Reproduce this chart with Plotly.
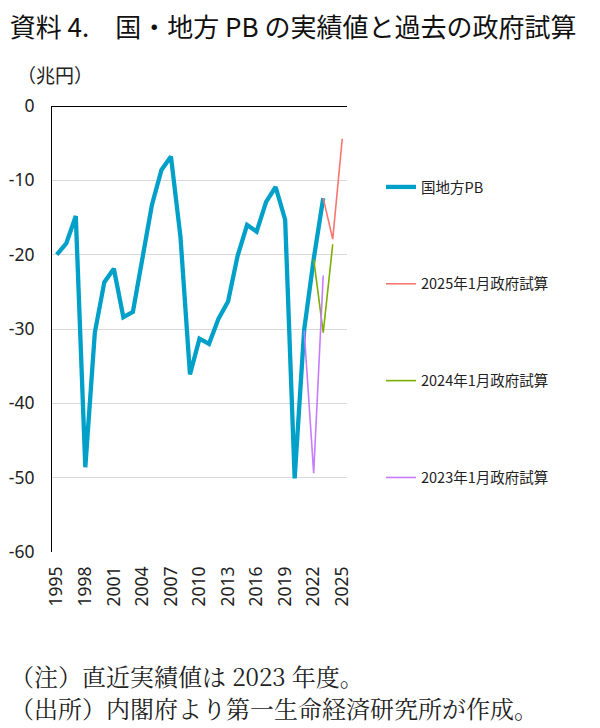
import plotly.graph_objects as go

years = list(range(1995, 2024))
pb_actual = [-20.0, -18.5, -14.8, -48.6, -30.5, -23.7, -21.9, -28.4, -27.7, -20.4,
             -13.3, -8.6, -6.8, -17.6, -36.1, -31.3, -32.0, -28.6, -26.3, -20.2,
             -16.0, -16.9, -12.9, -10.9, -15.3, -50.1, -30.1, -20.6, -12.4]

est2025_years = [2023, 2024, 2025]
est2025_vals = [-12.4, -17.9, -4.4]

est2024_years = [2022, 2023, 2024]
est2024_vals = [-20.6, -30.5, -18.6]

est2023_years = [2021, 2022, 2023]
est2023_vals = [-30.2, -49.4, -22.8]

x_ticks = list(range(1995, 2026, 3))
x_ticklabels = [str(v) for v in x_ticks]
y_ticks = [0, -10, -20, -30, -40, -50, -60]
y_ticklabels = ["0", "-10", "-20", "-30", "-40", "-50", "-60"]

series_names = ["国地方PB", "2025年1月政府試算", "2024年1月政府試算", "2023年1月政府試算"]

FONT = "Noto Sans CJK JP"
SERIF = "Noto Serif CJK JP, Noto Sans CJK JP"

# figure geometry (page has an 8px body margin)
W, H = 592, 720
L, T, PW, PH = 44, 98, 295, 446
B = H - T - PH
R = W - L - PW


def px_x(v):
    return (v - L) / PW


def px_y(v):
    return (T + PH - v) / PH


fig = go.Figure()
fig.add_trace(go.Scatter(x=years, y=pb_actual, mode="lines", name=series_names[0],
                         line=dict(color="#00A0C8", width=4.3), legendgroup="a"))
fig.add_trace(go.Scatter(x=est2025_years, y=est2025_vals, mode="lines", name=series_names[1],
                         line=dict(color="#F8766D", width=1.6), legendgroup="b"))
fig.add_trace(go.Scatter(x=est2024_years, y=est2024_vals, mode="lines", name=series_names[2],
                         line=dict(color="#7CAE00", width=1.6), legendgroup="c"))
fig.add_trace(go.Scatter(x=est2023_years, y=est2023_vals, mode="lines", name=series_names[3],
                         line=dict(color="#C77CFF", width=1.6), legendgroup="d"))

fig.update_layout(
    width=W, height=H,
    margin=dict(l=L, r=R, t=T, b=B, autoexpand=False),
    paper_bgcolor="white", plot_bgcolor="white",
    font=dict(family=FONT, color="#222222"),
    title=dict(text="資料 4.　国・地方 PB の実績値と過去の政府試算",
               x=0.003, xanchor="left", xref="container",
               y=1 - 19.5 / H, yanchor="middle", yref="container",
               font=dict(size=26, family=FONT, color="#111111")),
    showlegend=True,
    legend=dict(x=px_x(373), xanchor="left", y=px_y(163), yanchor="top",
                traceorder="grouped", tracegroupgap=75,
                font=dict(size=14.5, family=FONT, color="#222222"),
                bgcolor="rgba(0,0,0,0)"),
    xaxis=dict(range=[1994.5, 2025.5], tickmode="array", tickvals=x_ticks,
               ticktext=x_ticklabels, tickangle=-90, showgrid=False,
               showline=False, zeroline=False, ticks="", ticklabelstandoff=10,
               automargin=False,
               tickfont=dict(size=17.5, family="Noto Sans", color="#222222")),
    yaxis=dict(range=[-60, 0], tickmode="array", tickvals=y_ticks,
               ticktext=y_ticklabels, showgrid=True, gridcolor="#D9D9D9",
               gridwidth=1, zeroline=True, zerolinecolor="#000000",
               zerolinewidth=1, showline=True, linecolor="#000000",
               linewidth=1, ticks="", ticklabelstandoff=13, automargin=False,
               tickfont=dict(size=17.5, family="Noto Sans", color="#222222")),
)

fig.add_annotation(text="（兆円）", xref="paper", yref="paper",
                   x=px_x(7), y=px_y(67), xanchor="left", yanchor="middle",
                   showarrow=False, font=dict(size=19, family=FONT, color="#222222"))

fig.add_annotation(text="（注）直近実績値は 2023 年度。", xref="paper", yref="paper",
                   x=px_x(0), y=px_y(667), xanchor="left", yanchor="middle",
                   showarrow=False, font=dict(size=24, family=SERIF, color="#222222"))
fig.add_annotation(text="（出所）内閣府より第一生命経済研究所が作成。", xref="paper", yref="paper",
                   x=px_x(0), y=px_y(699), xanchor="left", yanchor="middle",
                   showarrow=False, font=dict(size=24, family=SERIF, color="#222222"))

fig.write_html("out.html")
